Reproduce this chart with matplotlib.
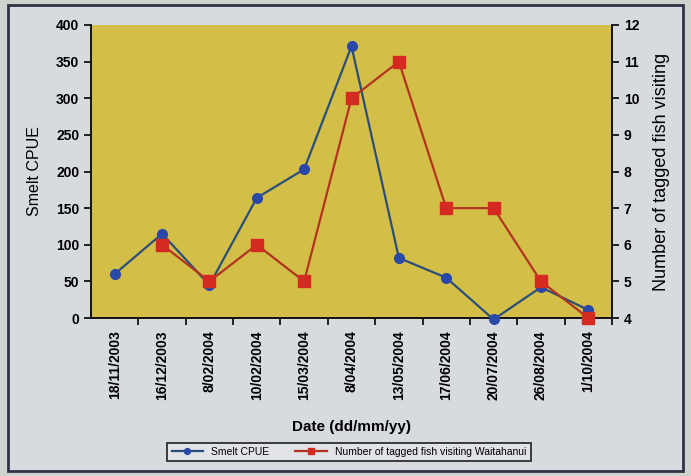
import matplotlib.pyplot as plt
import matplotlib.patches as mpatches
import numpy as np

# data
dates = ['18/11/2003', '16/12/2003', '8/02/2004', '10/02/2004', '15/03/2004',
         '8/04/2004', '13/05/2004', '17/06/2004', '20/07/2004', '26/08/2004',
         '1/10/2004']
smelt_cpue = [60, 115, 45, 164, 203, 371, 82, 55, -2, 42, 11]
tagged_fish = [np.nan, 6, 5, 6, 5, 10, 11, 7, 7, 5, 4]

narrow = ['Liberation Sans Narrow', 'Liberation Sans', 'DejaVu Sans']

W, H = 691, 476
fig = plt.figure(figsize=(W / 100, H / 100), dpi=100, facecolor='#cdd3cd')

# grey panel with dark frame
fig.patches.append(mpatches.Rectangle((8 / W, 5 / H), 675 / W, 466 / H,
                                      transform=fig.transFigure,
                                      facecolor='#d7dadf', edgecolor='#2e3445',
                                      linewidth=2, zorder=0))

ax = fig.add_axes([91 / W, 1 - 318 / H, 521 / W, 293 / H])
ax.set_facecolor('#d3bf48')
x = np.arange(len(dates))

l1, = ax.plot(x, smelt_cpue, color='#2c4f7a', lw=1.6, marker='o', ms=7,
              mfc='#2a48a8', mec='#2a48a8', zorder=3, clip_on=False)
ax.set_xlim(-0.5, len(dates) - 0.5)
ax.set_ylim(0, 400)
ax.set_yticks(range(0, 401, 50))

ax2 = ax.twinx()
l2, = ax2.plot(x, tagged_fish, color='#b23420', lw=1.6, marker='s', ms=8,
               mfc='#d42a22', mec='#d42a22', zorder=3, clip_on=False)
ax2.set_ylim(4, 12)
ax2.set_yticks(range(4, 13))
ax.set_zorder(1)
ax2.set_zorder(2)
ax2.patch.set_visible(False)

# category labels in the middle, ticks on boundaries
ax.set_xticks(x)
ax.set_xticklabels(dates, rotation=90, fontsize=10, fontweight='bold',
                   family=narrow)
ax.tick_params(axis='x', which='major', length=0, pad=9)
ax.set_xticks(np.arange(0.5, len(dates), 1), minor=True)
ax.tick_params(axis='x', which='minor', length=5, width=1.2, direction='out')

for a in (ax, ax2):
    for s in a.spines.values():
        s.set_visible(False)
    a.tick_params(axis='y', length=5, width=1.2, direction='out', labelsize=10)
    for lab in a.get_yticklabels():
        lab.set_fontweight('bold')
        lab.set_family(['Liberation Sans', 'DejaVu Sans'])
for s in (ax.spines['left'], ax.spines['bottom'], ax2.spines['right']):
    s.set_visible(True)
    s.set_linewidth(1.4)
    s.set_color('#111111')

ax.set_ylabel('Smelt CPUE', fontsize=11.5, family=narrow, labelpad=10)
ax2.set_ylabel('Number of tagged fish visiting', fontsize=13,
               family=narrow, labelpad=10)
ax.set_xlabel('Date (dd/mm/yy)', fontsize=11, fontweight='bold',
              family=['Liberation Sans', 'DejaVu Sans'], labelpad=14)

leg = fig.legend([l1, l2], ['Smelt CPUE', 'Number of tagged fish visiting Waitahanui'],
                 loc='center', bbox_to_anchor=(349 / W, 1 - 452 / H), ncol=2,
                 frameon=True, fancybox=False, markerscale=0.6,
                 handlelength=3, columnspacing=2.5, borderpad=0.4,
                 prop={'family': ['Liberation Sans', 'DejaVu Sans'], 'size': 7.5})
leg.get_frame().set_edgecolor('#111111')
leg.get_frame().set_linewidth(1.4)
leg.get_frame().set_facecolor('#e4e6ea')

fig.savefig('out.png', dpi=100, facecolor=fig.get_facecolor())
